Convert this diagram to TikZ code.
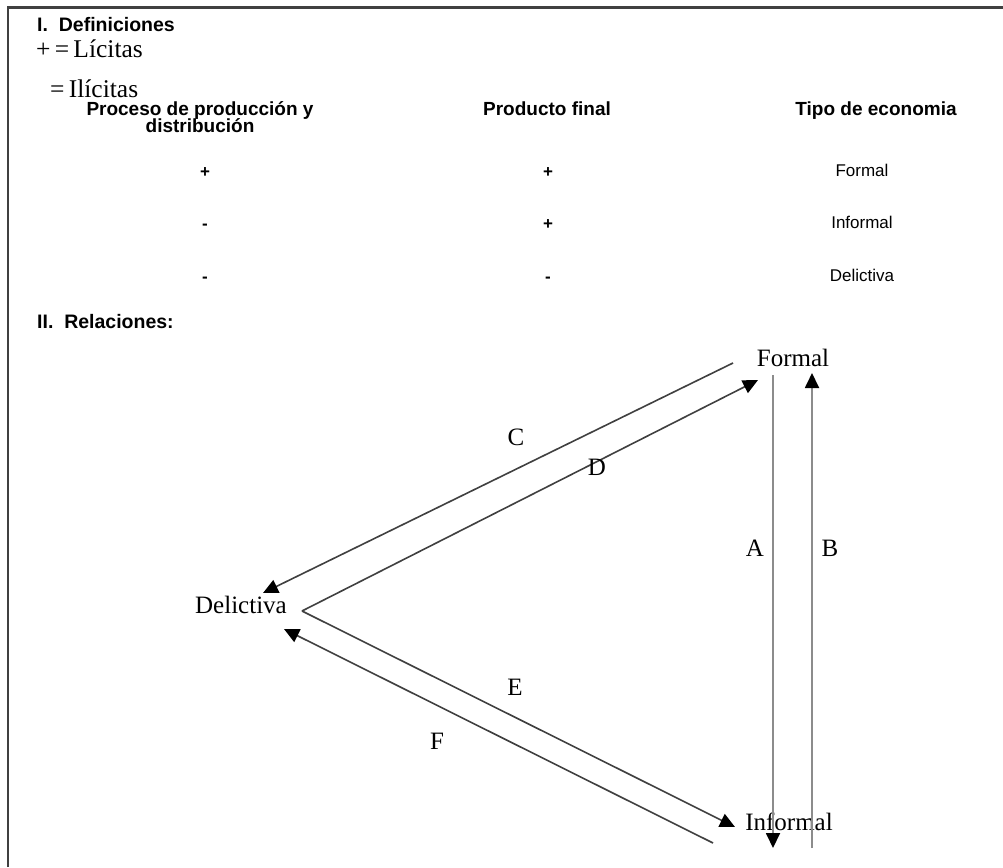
\documentclass[tikz,border=0pt]{standalone}
\usepackage{fontspec}
\setmainfont{Liberation Serif}
\setsansfont{Liberation Sans}
\usetikzlibrary{arrows.meta}
\begin{document}
\begin{tikzpicture}[x=1pt,y=-1pt,
  txt/.style={inner sep=0pt,anchor=base},
  hdr/.style={txt,font=\sffamily\bfseries\fontsize{19}{21}\selectfont},
  cell/.style={txt,font=\sffamily\fontsize{17}{19}\selectfont},
  sgn/.style={txt,font=\sffamily\bfseries\fontsize{17}{19}\selectfont},
  lbl/.style={txt,font=\fontsize{25}{27}\selectfont},
  econ/.style={txt,font=\fontsize{25}{27}\selectfont},
  sect/.style={txt,anchor=base west,font=\sffamily\bfseries\fontsize{19.5}{21}\selectfont},
  diag/.style={line width=1.6pt,draw=black!75,-{Triangle[length=15pt,width=14pt,fill=black,color=black]}},
  vert/.style={line width=1.8pt,draw=black!45,-{Triangle[length=15pt,width=14pt,fill=black,color=black]}}]
\useasboundingbox (0,0) rectangle (1003,867);
\fill[white] (0,0) rectangle (1003,867);
% frame
\draw[line width=2.2pt,black!75] (8,867) -- (8,7.5) -- (1003,7.5);
% section I
\node[sect] (secI) at (37,32) {I.\ \ Definiciones};
\node[txt,anchor=base west,font=\fontsize{25.5}{27}\selectfont] (lic) at (36,58) {+\,=\,Lícitas};
\node[txt,anchor=base west,font=\fontsize{25.5}{27}\selectfont] (ilic) at (50,97) {=\,Ilícitas};
% table
\node[hdr] (h1) at (200,115) {Proceso de producción y};
\node[hdr] (h1b) at (200,132) {distribución};
\node[hdr] (h2) at (547,115) {Producto final};
\node[hdr] (h3) at (876,115) {Tipo de economia};
\node[sgn] (r1a) at (205,177) {+};
\node[sgn] (r1b) at (548,177) {+};
\node[cell] (r1c) at (862,176) {Formal};
\node[sgn] (r2a) at (205,229) {-};
\node[sgn] (r2b) at (548,229) {+};
\node[cell] (r2c) at (862,228) {Informal};
\node[sgn] (r3a) at (205,282) {-};
\node[sgn] (r3b) at (548,282) {-};
\node[cell] (r3c) at (862,281) {Delictiva};
% section II
\node[sect] (secII) at (37,328) {II.\ \ Relaciones:};
% diagram nodes
\node[econ] (formal) at (793,366) {Formal};
\node[econ] (informal) at (789,830) {Informal};
\node[econ] (delictiva) at (241,613) {Delictiva};
% endpoints
\coordinate (cS) at (733,363);
\coordinate (cE) at (263,593);
\coordinate (dS) at (302,611);
\coordinate (dE) at (758,380);
\coordinate (eE) at (735,827);
\coordinate (fS) at (713,843);
\coordinate (fE) at (284,629);
\coordinate (aS) at (773,375);
\coordinate (aE) at (773,848);
\coordinate (bS) at (812,848);
\coordinate (bE) at (812,373);
% connectors
\draw[diag] (cS) -- (cE);
\draw[diag] (dS) -- (dE);
\draw[diag] (dS) -- (eE);
\draw[diag] (fS) -- (fE);
\draw[vert] (aS) -- (aE);
\draw[vert] (bS) -- (bE);
% labels
\node[lbl] (lC) at (516,445) {C};
\node[lbl] (lD) at (597,475) {D};
\node[lbl] (lA) at (755,556) {A};
\node[lbl] (lB) at (830,556) {B};
\node[lbl] (lE) at (515,695) {E};
\node[lbl] (lF) at (437,749) {F};
\end{tikzpicture}
\end{document}
